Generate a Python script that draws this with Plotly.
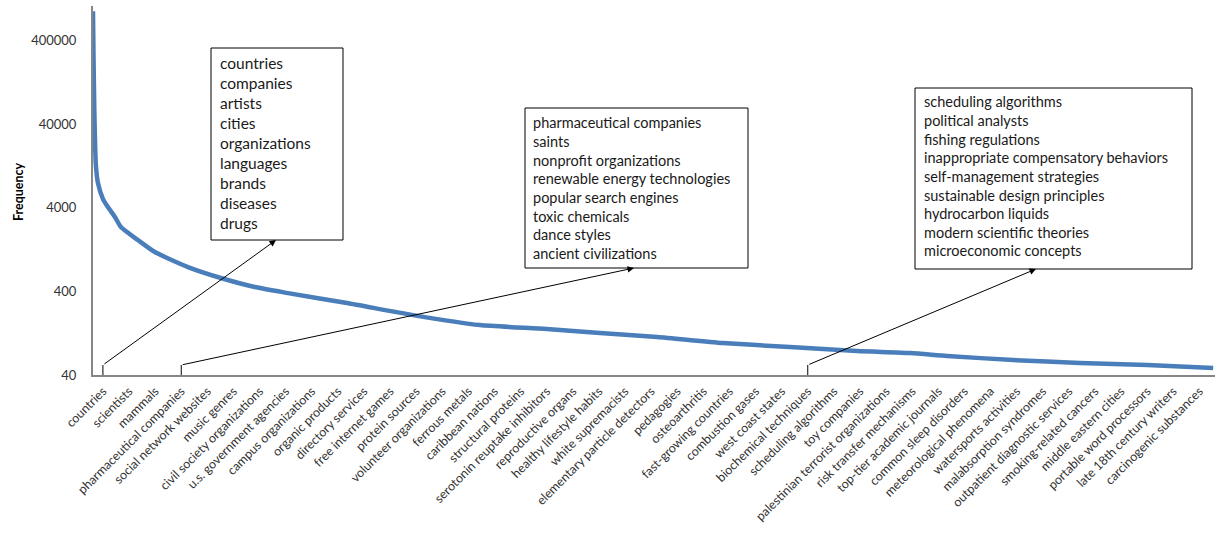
import math
import plotly.graph_objects as go

# ---------------- data ----------------
labels = ["countries", "scientists", "mammals", "pharmaceutical companies", "social network websites",
          "music genres", "civil society organizations", "u.s. government agencies", "campus organizations",
          "organic products", "directory services", "free internet games", "protein sources",
          "volunteer organizations", "ferrous metals", "caribbean nations", "structural proteins",
          "serotonin reuptake inhibitors", "reproductive organs", "healthy lifestyle habits",
          "white supremacists", "elementary particle detectors", "pedagogies", "osteoarthritis",
          "fast-growing countries", "combustion gases", "west coast states", "biochemical techniques",
          "scheduling algorithms", "toy companies", "palestinian terrorist organizations",
          "risk transfer mechanisms", "top-tier academic journals", "common sleep disorders",
          "meteorological phenomena", "watersports activities", "malabsorption syndromes",
          "outpatient diagnostic services", "smoking-related cancers", "middle eastern cities",
          "portable word processors", "late 18th century writers", "carcinogenic substances"]
label_pos = list(range(len(labels)))

# curve (position in label units, frequency)
curve_pos = [-0.38, -0.36, -0.33, -0.31, -0.27, -0.19, 0.0, 0.19, 0.46, 0.69, 1.34, 1.99, 3.26, 4.52,
             5.82, 7.09, 9.35, 11.88, 14.44, 17.0, 19.04, 21.23, 23.75, 26.32, 28.89, 30.92, 32.34,
             34.87, 37.43, 40.0, 42.53]
curve_freq = [890000, 250000, 60000, 31100, 12900, 7870, 5100, 4065, 3100, 2345, 1641, 1180, 780, 577,
              450, 381, 290, 208, 158, 142, 127, 114, 96.5, 86.4, 77.4, 73.2, 67.5,
              60.4, 55.6, 52.7, 48.5]

y_ticks = [40, 400, 4000, 40000, 400000]
y_ticktext = ["40", "400", "4000", "40000", "400000"]

box1_lines = ["countries", "companies", "artists", "cities", "organizations", "languages",
              "brands", "diseases", "drugs"]
box2_lines = ["pharmaceutical companies", "saints", "nonprofit organizations",
              "renewable energy technologies", "popular search engines", "toxic chemicals",
              "dance styles", "ancient civilizations"]
box3_lines = ["scheduling algorithms", "political analysts", "fishing regulations",
              "inappropriate compensatory behaviors", "self-management strategies",
              "sustainable design principles", "hydrocarbon liquids", "modern scientific theories",
              "microeconomic concepts"]
arrow_from = [0, 3, 27]  # label indices the arrows start from

# ---------------- layout geometry ----------------
W, H = 1217, 533
L, R, T, B = 93, 1215, 6, 375   # plot area in pixels
XMIN, XMAX = -0.38, 42.6
YMIN, YMAX = math.log10(40), math.log10(1.03e6)

def px2paper_x(px):
    return (px - L) / (R - L)

def py2paper_y(py):
    return (B - py) / (B - T)

def u2px(u):
    return L + (u - XMIN) / (XMAX - XMIN) * (R - L)

FONT = "Lato, 'Open Sans', sans-serif"

fig = go.Figure()
fig.add_trace(go.Scatter(x=curve_pos, y=curve_freq, mode="lines",
                         line=dict(color="#4a7ebb", width=4.5, shape="spline", smoothing=0.6),
                         hoverinfo="skip"))

shapes = []
annotations = []

boxes = [
    (box1_lines, (211, 48, 343, 240), 218, 63, 20.0, 15.5, (276, 240)),
    (box2_lines, (525, 108, 748, 268), 531, 123, 18.6, 14.5, (634, 268)),
    (box3_lines, (915, 88, 1192, 269), 922, 102, 18.6, 14.5, (1036, 269)),
]
for (lines, (x0, y0, x1, y1), tx, ty, dy, fs, head), li in zip(boxes, arrow_from):
    shapes.append(dict(type="rect", xref="paper", yref="paper",
                       x0=px2paper_x(x0), x1=px2paper_x(x1),
                       y0=py2paper_y(y1), y1=py2paper_y(y0),
                       line=dict(color="black", width=1), fillcolor="white", layer="above"))
    for k, t in enumerate(lines):
        annotations.append(dict(text=t, xref="paper", yref="paper",
                                x=px2paper_x(tx), y=py2paper_y(ty + k * dy),
                                xanchor="left", yanchor="middle", showarrow=False,
                                font=dict(family=FONT, size=fs, color="#1a1a1a")))
    tail_px = u2px(li)
    tail_py = 365
    shapes.append(dict(type="line", xref="x", yref="paper", x0=li, x1=li,
                       y0=0, y1=py2paper_y(tail_py), line=dict(color="black", width=1)))
    annotations.append(dict(text="", xref="paper", yref="paper",
                            x=px2paper_x(head[0]), y=py2paper_y(head[1]),
                            ax=tail_px - head[0], ay=tail_py - head[1],
                            showarrow=True, arrowhead=2, arrowsize=1.3, arrowwidth=1,
                            arrowcolor="black"))

# y-axis title
annotations.append(dict(text="<b>Frequency</b>", xref="paper", yref="paper",
                        x=px2paper_x(18), y=py2paper_y(192), xanchor="center", yanchor="middle",
                        textangle=-90, showarrow=False,
                        font=dict(family=FONT, size=12.5, color="#000000")))

fig.update_layout(
    width=W, height=H,
    margin=dict(l=L, r=W - R, t=T, b=H - B, autoexpand=False),
    paper_bgcolor="white", plot_bgcolor="white",
    showlegend=False,
    shapes=shapes, annotations=annotations,
    xaxis=dict(range=[XMIN, XMAX], tickmode="array", tickvals=label_pos, ticktext=labels,
               tickangle=-45, showgrid=False, zeroline=False, showline=True,
               linecolor="#868686", linewidth=2, ticks="", ticklabelstandoff=2,
               tickfont=dict(family=FONT, size=12.5, color="#333333"), automargin=False),
    yaxis=dict(type="log", range=[YMIN, YMAX], tickmode="array", tickvals=y_ticks,
               ticktext=y_ticktext, showgrid=False, zeroline=False, showline=True,
               linecolor="#868686", linewidth=2, ticks="", ticklabelstandoff=12,
               tickfont=dict(family=FONT, size=13, color="#333333"), automargin=False),
)

fig.write_html("out.html", config={"displayModeBar": False},
               post_script="document.body.style.margin='0';")
